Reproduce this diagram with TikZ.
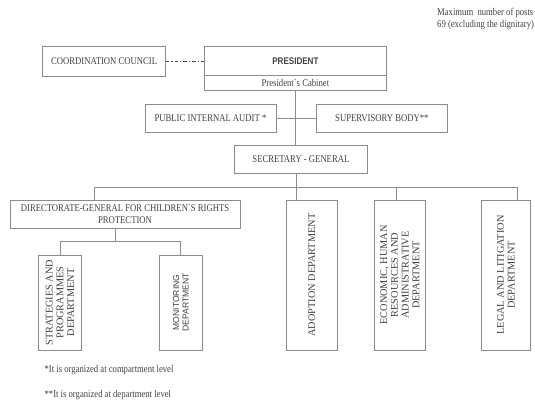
\documentclass[tikz,border=0pt]{standalone}
\usepackage{fontspec}
\setmainfont{Liberation Serif}
\setsansfont{Liberation Sans}
\newfontfamily\narrowserif{Liberation Serif}[FakeStretch=0.84]
\newfontfamily\narrowsans{Liberation Sans}[FakeStretch=0.84]
\usepackage{tikz}
\usetikzlibrary{positioning}
\definecolor{boxline}{gray}{0.55}
\definecolor{boxtext}{gray}{0.25}

\begin{document}
\begin{tikzpicture}[x=1pt, y=-1pt,
    every node/.style={inner sep=0pt, text=boxtext},
    hbox/.style={draw=boxline, line width=0.8pt, align=center,
      font=\narrowserif\fontsize{10.3}{12}\selectfont},
    vbox/.style={draw=boxline, line width=0.8pt, rotate=90, align=center,
      font=\fontsize{10.3}{10.8}\selectfont},
    link/.style={draw=boxline, line width=0.8pt}]
  \useasboundingbox (0,0) rectangle (535,403);

  % top level
  \node[hbox, minimum width=122.8pt, minimum height=30.5pt] (council) at (104.1,61.2) {COORDINATION COUNCIL};
  \node[hbox, minimum width=181.2pt, minimum height=29.5pt,
    font=\narrowsans\bfseries\fontsize{9.6}{11}\selectfont] (pres) at (295.4,60.75) {PRESIDENT};
  \node[hbox, minimum width=181.2pt, minimum height=15pt] (cab) at (295.4,83) {President`s Cabinet};
  \node[hbox, minimum width=131pt, minimum height=28pt] (audit) at (210.5,118) {PUBLIC INTERNAL AUDIT *};
  \node[hbox, minimum width=130.3pt, minimum height=28pt] (superv) at (381.85,118) {SUPERVISORY BODY**};
  \node[hbox, minimum width=132.2pt, minimum height=28pt] (secgen) at (300.9,159) {SECRETARY - GENERAL};

  % departments
  \node[hbox, minimum width=230pt, minimum height=28.5pt] (dgcrp) at (125,214.25)
    {DIRECTORATE-GENERAL FOR CHILDREN`S RIGHTS\\PROTECTION};
  \node[vbox, minimum width=150pt, minimum height=51.5pt] (adopt) at (311.75,275) {ADOPTION DEPARTMENT};
  \node[vbox, minimum width=150pt, minimum height=50.3pt] (econ) at (399.85,275)
    {ECONOMIC, HUMAN\\RESOURCES AND\\ADMINISTRATIVE\\DEPARTMENT};
  \node[vbox, minimum width=150pt, minimum height=49.7pt] (legal) at (505.85,275)
    {LEGAL AND LITIGATION\\DEPARTMENT};
  \node[vbox, minimum width=95pt, minimum height=42.6pt] (strat) at (59.9,302.5)
    {STRATEGIES AND\\PROGRAMMES\\DEPARTMENT};
  \node[vbox, minimum width=95pt, minimum height=43pt,
    font=\sffamily\fontsize{8.6}{9.4}\selectfont] (monit) at (180.8,302.5)
    {MONITORING\\DEPARTMENT};

  % notes
  \node[anchor=north west, align=left, font=\narrowserif\fontsize{10.3}{12}\selectfont] (posts) at (437,8.5)
    {Maximum\ \ number of posts\\69 (excluding the dignitary)};
  \node[anchor=west, font=\narrowserif\fontsize{10.3}{12}\selectfont] (note1) at (44.4,370)
    {*It is organized at compartment level};
  \node[anchor=west, font=\narrowserif\fontsize{10.3}{12}\selectfont] (note2) at (44.4,395)
    {**It is organized at department level};

  % connectors
  \draw[link, draw=black!70, line width=1.2pt, dash pattern=on 3.5pt off 2pt on 1.2pt off 2pt]
    (council.east) -- (council.east -| pres.west);
  \draw[link] (cab.south) -- (cab.south |- secgen.north);
  \draw[link] (audit) -- (superv);

  \coordinate (bus) at (296,187);
  \coordinate (busL) at (94.5,187);
  \coordinate (busE) at (396.6,187);
  \coordinate (busR) at (517.5,187);
  \draw[link] (bus |- secgen.south) -- (bus);
  \draw[link] (busL) -- (busR);
  \draw[link] (busL) -- (busL |- dgcrp.north);
  \draw[link] (bus) -- (bus |- adopt.east);
  \draw[link] (busE) -- (busE |- econ.east);
  \draw[link] (busR) -- (busR |- legal.east);

  \coordinate (sub) at (115,241.5);
  \coordinate (subL) at (strat.east |- sub);
  \coordinate (subR) at (monit.east |- sub);
  \draw[link] (sub |- dgcrp.south) -- (sub);
  \draw[link] (subL) -- (subR);
  \draw[link] (subL) -- (strat.east);
  \draw[link] (subR) -- (monit.east);
\end{tikzpicture}
\end{document}
